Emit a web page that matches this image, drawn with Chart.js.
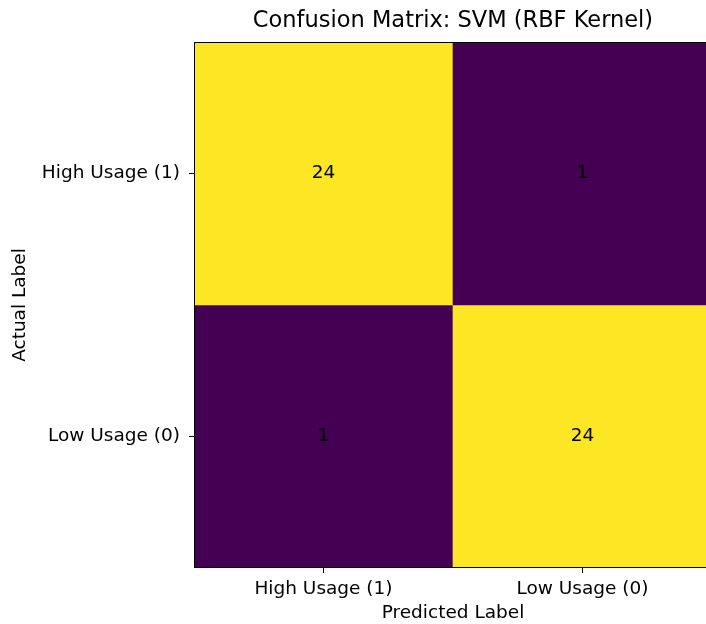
<!DOCTYPE html>
<html>
<head>
<meta charset="utf-8">
<script src="https://cdn.jsdelivr.net/npm/chart.js@4"></script>
<style>
  html, body { margin: 0; padding: 0; background: #fff; overflow: hidden; }
  #wrap { width: 706px; height: 624px; overflow: hidden; }
</style>
</head>
<body>
<div id="wrap"><canvas id="myChart" width="712" height="624"></canvas></div>
<script>
// confusion matrix, rows = actual, columns = predicted
const predictedLabels = ["High Usage (1)", "Low Usage (0)"];
const actualLabels = ["High Usage (1)", "Low Usage (0)"];
const highUsageRow = [24, 1];
const lowUsageRow = [1, 24];
const rows = [highUsageRow, lowUsageRow];

const font = "'DejaVu Sans', sans-serif";
const vmin = Math.min(...rows.flat());
const vmax = Math.max(...rows.flat());

// few viridis stops
const viridis = ["#440154", "#3b528b", "#21918c", "#5ec962", "#fde725"];

function hexToRgb(h) {
  return [parseInt(h.slice(1, 3), 16), parseInt(h.slice(3, 5), 16), parseInt(h.slice(5, 7), 16)];
}

function colorFor(v) {
  const t = (v - vmin) / (vmax - vmin || 1);
  const pos = t * (viridis.length - 1);
  const i = Math.min(Math.floor(pos), viridis.length - 2);
  const f = pos - i;
  const a = hexToRgb(viridis[i]);
  const b = hexToRgb(viridis[i + 1]);
  const c = a.map((x, k) => Math.round(x + (b[k] - x) * f));
  return `rgb(${c[0]}, ${c[1]}, ${c[2]})`;
}

const datasets = rows.map((row, r) => ({
  label: actualLabels[r],
  data: row.map(() => [r - 0.5, r + 0.5]),
  values: row,
  backgroundColor: row.map(colorFor),
  borderWidth: 0,
  barPercentage: 1,
  categoryPercentage: 1,
  grouped: false,
}));

const cellText = {
  id: "cellText",
  afterDatasetsDraw(chart) {
    const ctx = chart.ctx;
    ctx.save();
    ctx.fillStyle = "#000";
    ctx.font = "18.5px " + font;
    ctx.textAlign = "center";
    ctx.textBaseline = "middle";
    chart.data.datasets.forEach((ds, i) => {
      chart.getDatasetMeta(i).data.forEach((bar, j) => {
        const y = (bar.y + bar.base) / 2;
        ctx.fillText(String(ds.values[j]), bar.x, y);
      });
    });
    ctx.restore();
  },
};

const frame = {
  id: "frame",
  afterDraw(chart) {
    const a = chart.chartArea;
    const ctx = chart.ctx;
    ctx.save();
    ctx.strokeStyle = "#000";
    ctx.lineWidth = 1;
    ctx.strokeRect(a.left + 0.5, a.top + 0.5, a.right - a.left, a.bottom - a.top - 1);
    ctx.restore();
  },
};

const myChart = document.getElementById("myChart");
new Chart(myChart, {
  type: "bar",
  data: { labels: predictedLabels, datasets },
  plugins: [cellText, frame],
  options: {
    responsive: false,
    animation: false,
    layout: { padding: 0 },
    plugins: {
      legend: { display: false },
      tooltip: { enabled: false },
      title: {
        display: true,
        text: "Confusion Matrix: SVM (RBF Kernel)",
        fullSize: false,
        color: "#000",
        font: { family: font, size: 22.5, weight: "normal", lineHeight: 1.2 },
        padding: { top: 8, bottom: 7 },
      },
    },
    scales: {
      x: {
        type: "category",
        offset: true,
        grid: { drawOnChartArea: false, drawTicks: true, tickLength: 5, tickColor: "#000", offset: false },
        border: { display: false },
        ticks: { color: "#000", font: { family: font, size: 18.5 }, padding: 5, maxRotation: 0 },
        title: {
          display: true,
          text: "Predicted Label",
          color: "#000",
          font: { family: font, size: 18.5 },
          padding: { top: 0, bottom: 0 },
        },
        afterFit(scale) { scale.height = 56; },
      },
      y: {
        type: "linear",
        min: -0.5,
        max: 1.5,
        reverse: true,
        afterBuildTicks(scale) {
          scale.ticks = actualLabels.map((_, i) => ({ value: i }));
        },
        grid: { drawOnChartArea: false, drawTicks: true, tickLength: 5, tickColor: "#000" },
        border: { display: false },
        ticks: {
          color: "#000",
          font: { family: font, size: 18.5 },
          padding: 9,
          callback: (v) => actualLabels[v],
        },
        title: {
          display: true,
          text: "Actual Label",
          color: "#000",
          font: { family: font, size: 18.5 },
          padding: { top: 9, bottom: 0 },
        },
        afterFit(scale) { scale.width = 194; },
      },
    },
  },
});
</script>
</body>
</html>
